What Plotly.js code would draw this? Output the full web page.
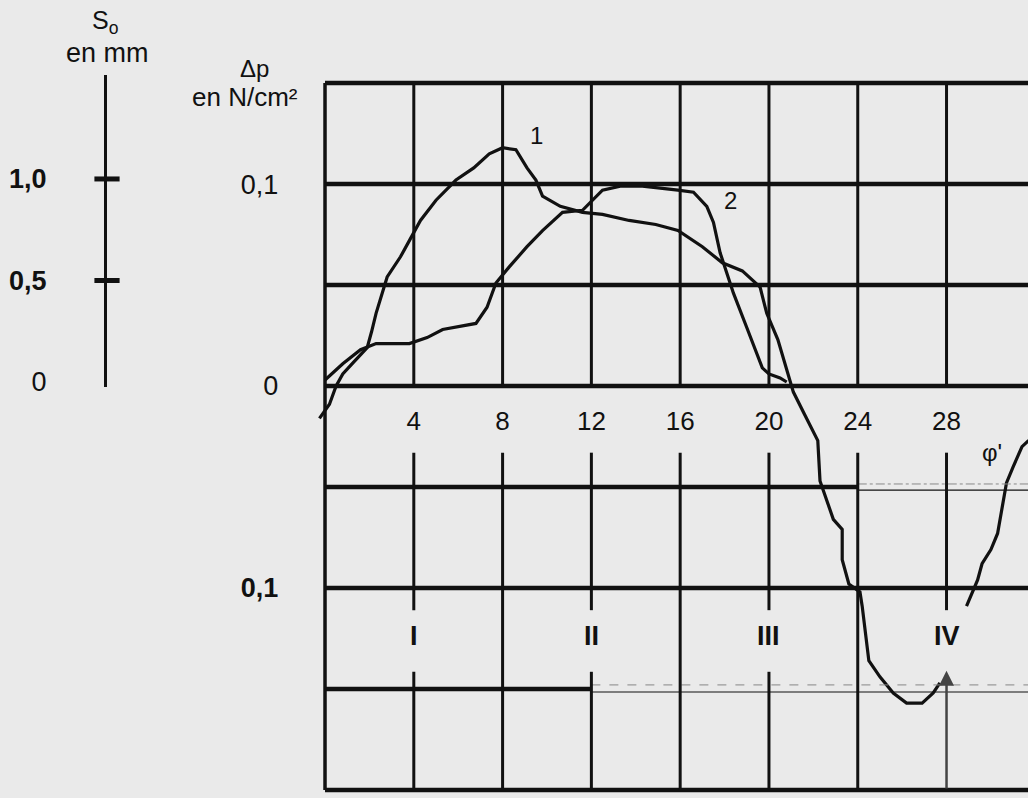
<!DOCTYPE html>
<html>
<head>
<meta charset="utf-8">
<script src="https://cdn.plot.ly/plotly-3.0.1.min.js"></script>
<style>html,body{margin:0;padding:0;background:#eaeaea;}#chart{width:1028px;height:798px;}</style>
</head>
<body>
<div id="chart"></div>
<script>
// ---- data ----
const curve1X = [-0.25,0.2,0.5,0.8,1.3,1.9,2.1,2.3,2.8,3.4,3.8,4.3,5.0,5.9,6.7,7.4,8.0,8.6,9.1,9.5,9.8,10.6,11.6,12.5,13.7,14.9,15.9,17.0,17.9,18.8,19.6,19.9,20.4,20.8,21.1,21.6,22.2,22.3,22.6,22.9,23.3,23.3,23.6,24.1,24.2,24.5,25.0,25.6,26.2,26.9,27.4,27.7];
const curve1Y = [-0.016,-0.009,0.0,0.006,0.012,0.019,0.027,0.036,0.054,0.064,0.072,0.082,0.092,0.102,0.108,0.115,0.118,0.117,0.108,0.102,0.094,0.089,0.086,0.085,0.082,0.080,0.077,0.069,0.061,0.057,0.049,0.036,0.023,0.008,-0.003,-0.014,-0.027,-0.047,-0.056,-0.066,-0.071,-0.086,-0.098,-0.102,-0.109,-0.136,-0.144,-0.152,-0.157,-0.157,-0.152,-0.147];
const curve2X = [0.0,0.8,1.6,2.3,3.8,4.6,5.3,6.8,7.3,7.7,8.3,9.1,9.8,10.7,11.6,12.5,13.3,14.3,15.9,16.6,17.2,17.5,17.8,18.4,19.0,19.7,20.0,20.5,20.8];
const curve2Y = [0.003,0.011,0.018,0.021,0.021,0.024,0.028,0.031,0.039,0.051,0.059,0.069,0.077,0.086,0.087,0.097,0.099,0.099,0.097,0.096,0.089,0.081,0.066,0.046,0.029,0.009,0.006,0.004,0.002];
const tailX = [28.9,29.1,29.4,29.6,30.0,30.3,30.5,30.7,31.0,31.4,31.7];
const tailY = [-0.109,-0.104,-0.096,-0.088,-0.081,-0.073,-0.061,-0.048,-0.040,-0.030,-0.027];

const phiTicks = [4,8,12,16,20,24,28];
const phiLabels = ['4','8','12','16','20','24','28'];
const dpTicks = [0.1,0,-0.1,-0.2];
const dpLabels = ['0,1','0','<b>0,1</b>','<b>0,2</b>'];
const s0Ticks = [0,0.5,1.0];
const s0Labels = ['0','<b>0,5</b>','<b>1,0</b>'];
const s0Marks = [0.5,1.0];
const romanX = [4,12,20,28];
const romanLabels = ['I','II','III','IV'];
const curveNames = ['1','2'];

// ---- drawing ----
const FONT = 'Liberation Sans, Arial, sans-serif';
const INK = '#111';
const XMAX = 31.7;
const shapes = [];
function hl(y, x0, x1, w, color, dash){
  shapes.push({type:'line', xref:'x', yref:'y', x0:x0, x1:x1, y0:y, y1:y,
    line:{color:color||INK, width:w, dash:dash||'solid'}});
}
function vl(x, y0, y1, w){
  shapes.push({type:'line', xref:'x', yref:'y', x0:x, x1:x, y0:y0, y1:y1,
    line:{color:INK, width:w}});
}
// horizontal lines
[0.15,0.1,0.05,0,-0.1,-0.2].forEach(y => hl(y, 0, XMAX, 4.5));
hl(-0.05, 0, 24, 4.5);
hl(-0.0515, 24, XMAX, 1.2);
hl(-0.0485, 24, XMAX, 1, '#888', 'dashdot');
hl(-0.15, 0, 12, 4.5);
hl(-0.1515, 12, XMAX, 1.2);
hl(-0.148, 12, XMAX, 1, '#888', 'dash');
// left frame
vl(0, -0.2, 0.15, 3.5);
// vertical lines
phiTicks.forEach(x => {
  vl(x, 0, 0.15, 3);
  if (romanX.indexOf(x) >= 0) {
    vl(x, -0.033, -0.111, 3);
    if (x !== 28) vl(x, -0.1415, -0.2, 3);
  } else {
    vl(x, -0.033, -0.2, 3);
  }
});

const traces = [
  {x:curve1X, y:curve1Y, name:curveNames[0], mode:'lines', line:{color:INK, width:3.2}},
  {x:curve2X, y:curve2Y, name:curveNames[1], mode:'lines', line:{color:INK, width:3.2}},
  {x:tailX, y:tailY, name:'φ\'', mode:'lines', line:{color:INK, width:3.2}},
  {x:s0Marks.map(()=>0), y:s0Marks, xaxis:'x2', yaxis:'y2', mode:'markers', cliponaxis:false,
   marker:{symbol:'line-ew', size:18, line:{width:5, color:INK}}}
];

function ann(o){ return Object.assign({showarrow:false, xanchor:'center', yanchor:'middle'}, o); }
const annotations = [];
romanX.forEach((x,i) => annotations.push(ann({x:x, y:-0.124, xref:'x', yref:'y', text:'<b>'+romanLabels[i]+'</b>',
  font:{family:FONT, size:27, color:INK}})));
annotations.push(ann({x:9.55, y:0.124, xref:'x', yref:'y', text:curveNames[0], font:{family:FONT, size:24, color:INK}}));
annotations.push(ann({x:18.25, y:0.092, xref:'x', yref:'y', text:curveNames[1], font:{family:FONT, size:24, color:INK}}));
annotations.push(ann({x:30.05, y:-0.033, xref:'x', yref:'y', text:"φ'", font:{family:FONT, size:24, color:INK}}));
annotations.push({x:28, y:-0.141, ax:28, ay:-0.2, xref:'x', yref:'y', axref:'x', ayref:'y', text:'',
  showarrow:true, arrowhead:2, arrowsize:1.2, arrowwidth:2.5, arrowcolor:'#444'});
// titles
annotations.push(ann({x:105/1028, y:1-22/798, xref:'paper', yref:'paper', text:'S<sub>o</sub>', font:{family:FONT, size:25, color:INK}}));
annotations.push(ann({x:107/1028, y:1-53/798, xref:'paper', yref:'paper', text:'en mm', font:{family:FONT, size:27, color:INK}}));
annotations.push(ann({x:254/1028, y:1-68/798, xref:'paper', yref:'paper', text:'Δp', font:{family:FONT, size:24, color:INK}}));
annotations.push(ann({x:245/1028, y:1-97/798, xref:'paper', yref:'paper', text:'en N/cm²', font:{family:FONT, size:26, color:INK}}));

const layout = {
  width:1028, height:798,
  margin:{l:0, r:0, t:0, b:0},
  paper_bgcolor:'#eaeaea', plot_bgcolor:'#eaeaea',
  showlegend:false,
  xaxis:{domain:[0.3086,1], range:[-0.35,31.67], anchor:'free', position:1-386/798,
    showgrid:false, zeroline:false, showline:false, ticks:'',
    tickvals:phiTicks, ticktext:phiLabels, ticklabelstandoff:17,
    tickfont:{family:FONT, size:26, color:INK}},
  yaxis:{domain:[0,0.9085], range:[-0.204,0.155],
    showgrid:false, zeroline:false, showline:false, ticks:'',
    tickvals:dpTicks, ticktext:dpLabels, ticklabelstandoff:38,
    tickfont:{family:FONT, size:27, color:INK}},
  xaxis2:{domain:[107/1028,125/1028], range:[0,1], anchor:'y2', visible:false},
  yaxis2:{domain:[1-387/798,1-75/798], range:[-0.0246,1.512], anchor:'x2',
    showgrid:false, zeroline:false, showline:true, linecolor:INK, linewidth:3, ticks:'',
    tickvals:s0Ticks, ticktext:s0Labels, ticklabelstandoff:52,
    tickfont:{family:FONT, size:27, color:INK}},
  shapes:shapes,
  annotations:annotations
};
Plotly.newPlot('chart', traces, layout, {staticPlot:true, displayModeBar:false});
</script>
</body>
</html>
